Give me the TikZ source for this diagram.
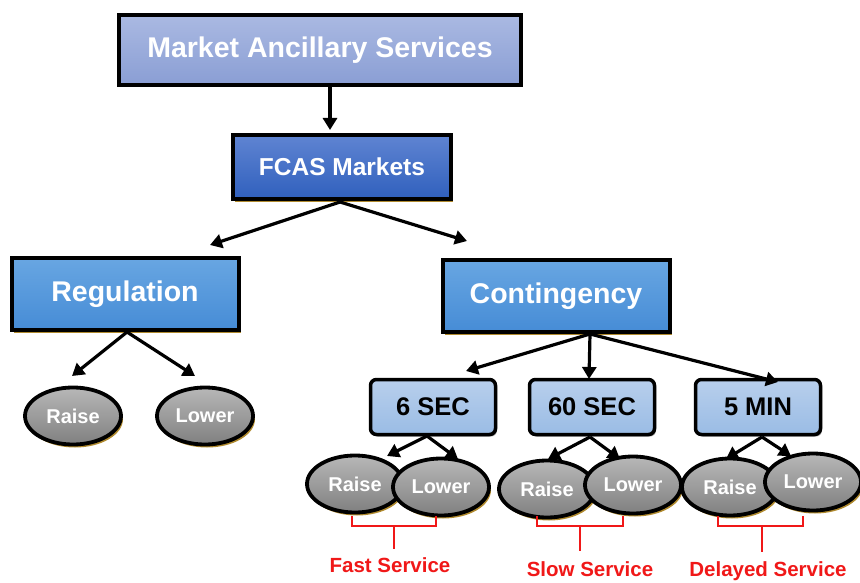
\documentclass[tikz,border=0pt]{standalone}
\usepackage{fontspec}
\setmainfont{Liberation Sans}
\usetikzlibrary{
    positioning,
    arrows.meta,
    shapes.geometric,
    shadows
}

\definecolor{shadowbrown}{HTML}{B08A2E}
\definecolor{servicered}{HTML}{F01818}

\tikzset{
    topbox/.style={draw=black, line width=4pt, minimum width=402pt, minimum height=70pt,
        top color={rgb,255:red,170;green,185;blue,226}, bottom color={rgb,255:red,138;green,158;blue,212},
        font=\fontsize{28.5}{32}\selectfont\bfseries, text=white},
    fcasbox/.style={draw=black, line width=4pt, minimum width=218pt, minimum height=64pt,
        top color={rgb,255:red,95;green,132;blue,210}, bottom color={rgb,255:red,48;green,96;blue,189},
        font=\fontsize{24.5}{28}\selectfont\bfseries, text=white,
        drop shadow={shadow xshift=2pt, shadow yshift=-3pt, fill=shadowbrown, opacity=1}},
    typebox/.style={draw=black, line width=4pt, minimum width=227pt, minimum height=72pt,
        top color={rgb,255:red,104;green,166;blue,226}, bottom color={rgb,255:red,70;green,140;blue,214},
        font=\fontsize{28.5}{32}\selectfont\bfseries, text=white,
        drop shadow={shadow xshift=2pt, shadow yshift=-3pt, fill=shadowbrown, opacity=1}},
    timebox/.style={draw=black, line width=3.5pt, rounded corners=6pt, minimum width=125pt, minimum height=55pt,
        top color={rgb,255:red,184;green,207;blue,236}, bottom color={rgb,255:red,154;green,188;blue,229},
        font=\fontsize{25.5}{29}\selectfont\bfseries, text=black,
        drop shadow={shadow xshift=1.5pt, shadow yshift=-2pt, fill=black!60, opacity=0.6}},
    bubble/.style={ellipse, draw=black, line width=3.8pt, minimum width=96pt, minimum height=57pt, inner sep=0pt,
        top color=black!28, bottom color=black!50,
        font=\fontsize{20}{24}\selectfont\bfseries, text=white,
        drop shadow={shadow xshift=2pt, shadow yshift=-3pt, fill=shadowbrown, opacity=1}},
    link/.style={line width=3.2pt, -{Triangle[length=12pt, width=14pt]}},
    brace/.style={servicered, line width=1.6pt},
    service/.style={servicered, font=\fontsize{20.5}{24}\selectfont\bfseries}
}

\begin{document}
\begin{tikzpicture}[x=1pt, y=-1pt]
    \useasboundingbox (0,0) rectangle (860,583);

    % Toppnivaa
    \node[topbox] (mas) at (320,50) {Market Ancillary Services};
    \node[fcasbox] (fcas) at (342,167) {FCAS Markets};

    % Regulering og beredskap
    \node[typebox] (reg) at (125,294) {Regulation};
    \node[typebox] (cont) at (556,296) {Contingency};

    % Regulering: opp / ned
    \node[bubble] (regraise) at (73,416) {Raise};
    \node[bubble] (reglower) at (205,416) {Lower};

    % Tidsklasser
    \node[timebox] (sixsec) at (433,407) {6 SEC};
    \node[timebox] (sixtysec) at (592,407) {60 SEC};
    \node[timebox] (fivemin) at (758,407) {5 MIN};

    % Opp / ned for hver tidsklasse
    \node[bubble] (fastraise) at (355,484) {Raise};
    \node[bubble] (fastlower) at (441,487) {Lower};
    \node[bubble] (slowraise) at (547,489) {Raise};
    \node[bubble] (slowlower) at (633,485) {Lower};
    \node[bubble] (delraise) at (730,487) {Raise};
    \node[bubble] (dellower) at (813,482) {Lower};

    % Piler
    \coordinate (fcastop) at (330,130);
    \draw[link] (mas.south -| fcastop) -- (fcastop);

    \coordinate (fcasfoot) at (340,202);
    \coordinate (regtip) at (210,245);
    \coordinate (conttip) at (467,241);
    \draw[link] (fcasfoot) -- (regtip);
    \draw[link] (fcasfoot) -- (conttip);

    \coordinate (regfoot) at (127,332);
    \coordinate (rtipa) at (72,376);
    \coordinate (rtipb) at (195,376);
    \draw[link] (regfoot) -- (rtipa);
    \draw[link] (regfoot) -- (rtipb);

    \coordinate (contfoot) at (590,334);
    \coordinate (ctipa) at (466,371);
    \coordinate (ctipb) at (589,379);
    \coordinate (ctipc) at (778,382);
    \draw[link] (contfoot) -- (ctipa);
    \draw[link] (contfoot) -- (ctipb);
    \draw[link] (contfoot) -- (ctipc);

    \coordinate (sfoot) at (427,436);
    \draw[link] (sfoot) -- (387,456);
    \draw[link] (sfoot) -- (458,459);
    \coordinate (tfoot) at (590,437);
    \draw[link] (tfoot) -- (548,459);
    \draw[link] (tfoot) -- (620,459);
    \coordinate (mfoot) at (762,437);
    \draw[link] (mfoot) -- (726,459);
    \draw[link] (mfoot) -- (791,456);

    % Klammer og tekst
    \draw[brace] (352,516) -- (352,526) -- (436,526) -- (436,516);
    \draw[brace] (394,526) -- (394,549);
    \node[service] (fast) at (390,565) {Fast Service};

    \draw[brace] (537,516) -- (537,526) -- (623,526) -- (623,516);
    \draw[brace] (580,526) -- (580,551);
    \node[service] (slow) at (590,569) {Slow Service};

    \draw[brace] (718,516) -- (718,526) -- (803,526) -- (803,516);
    \draw[brace] (762,526) -- (762,552);
    \node[service] (delayed) at (768,571) {Delayed Service};
\end{tikzpicture}
\end{document}
